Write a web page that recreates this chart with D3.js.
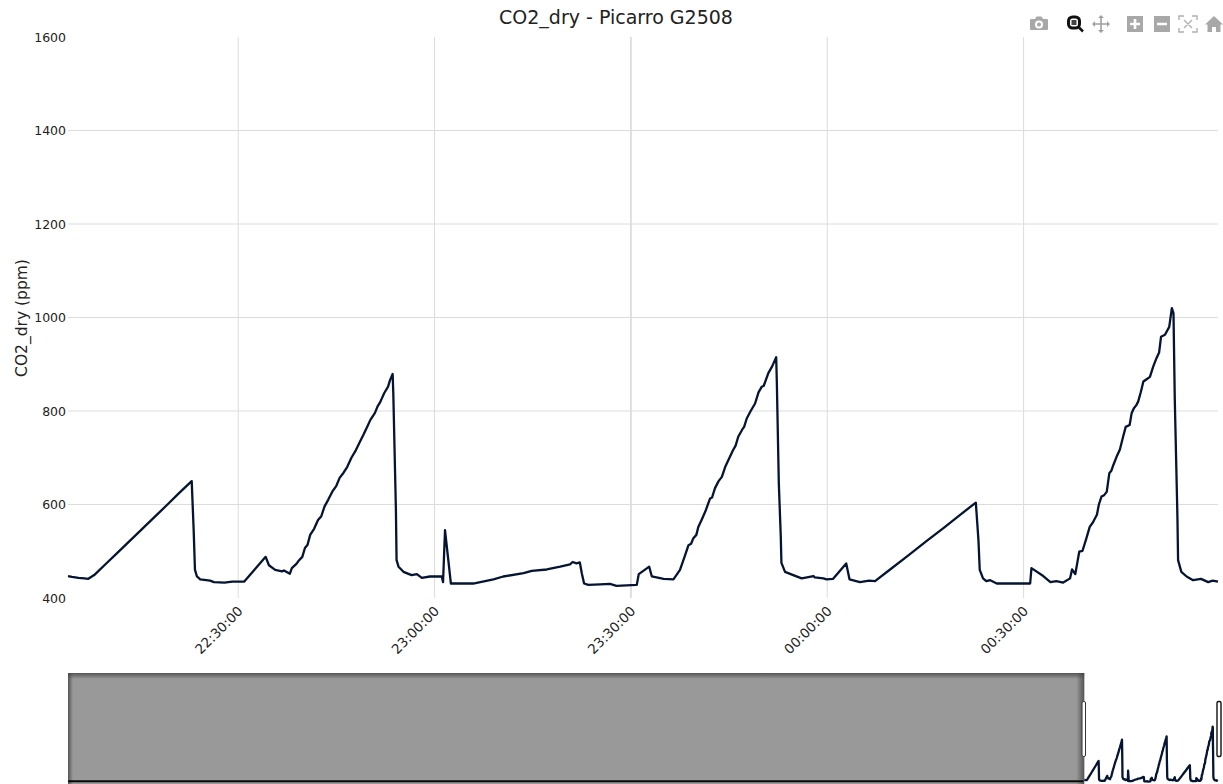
<!DOCTYPE html>
<html><head><meta charset="utf-8">
<script src="https://cdn.jsdelivr.net/npm/d3@7/dist/d3.min.js"></script>
<style>html,body{margin:0;padding:0;background:#fff;overflow:hidden}svg{display:block}text{font-family:"DejaVu Sans",Verdana,sans-serif;fill:#222}</style>
</head><body><svg id="c" width="1223" height="784"></svg>
<script>
const chartTitle = "CO2_dry - Picarro G2508";
const yAxisTitle = "CO2_dry (ppm)";
const yTicks = [400,600,800,1000,1200,1400,1600];
const xTickMinutes = [30,60,90,120,150];
// minutes after 22:00
const minutes = [4.0,4.6,5.6,6.5,7.1,8.0,10.0,11.5,13.2,15.5,17.2,19.2,21.0,22.9,23.2,23.4,23.7,24.2,25.7,26.3,27.9,29.1,30.9,34.2,34.7,35.65,36.7,37.0,37.9,38.2,38.9,39.2,39.8,40.2,40.6,41.0,41.6,42.2,42.7,43.2,43.75,44.4,45.0,45.5,46.1,46.65,47.3,47.9,48.6,49.1,49.7,50.2,50.9,51.3,51.7,52.3,52.9,53.2,53.6,53.7,54.1,54.2,54.5,55.25,56.5,57.3,58.06,59.3,61.1,61.3,61.6,62.5,65.9,69.0,70.5,73.6,74.85,77.15,79.2,80.7,81.1,81.7,82.2,82.5,82.85,83.5,85.3,86.8,87.8,90.9,91.2,92.8,93.2,95.0,96.5,97.5,98.3,98.8,99.2,99.55,100.0,100.3,100.8,101.4,102.1,102.4,102.85,103.4,103.9,104.4,104.9,105.6,106.0,106.4,107.0,107.3,107.7,108.3,108.97,109.5,110.0,110.3,111.0,111.6,112.2,112.3,112.6,112.9,113.0,113.55,114.8,116.1,117.9,118.1,119.4,119.9,120.9,122.9,123.4,125.0,126.4,127.3,129.6,132.1,135.2,137.7,140.3,142.7,143.1,143.3,143.8,144.3,144.9,145.9,151.0,151.2,153.0,154.1,155.0,156.05,157.1,157.4,157.9,158.5,159.0,159.6,160.1,160.6,161.2,161.5,161.9,162.3,162.7,163.1,163.4,163.7,164.2,164.7,165.2,165.6,166.2,166.5,166.85,167.2,167.5,167.9,168.3,168.8,169.3,169.8,170.3,170.7,171.0,171.6,172.25,172.65,172.9,173.1,173.5,173.6,174.1,174.9,175.9,177.1,178.2,178.9,179.7];
const co2 = [447,445,443,442,441,449,476,496,519,550,573,600,625,650,545,460,446,440,437,434,433,435,435,488,470,460,457,459,452,464,473,479,488,507,514,535,548,567,575,596,610,628,640,657,668,680,700,714,734,748,766,781,796,810,819,838,852,866,879,838,588,481,467,456,449,451,443,446,446,434,545,431,431,440,446,453,458,461,467,472,477,474,476,453,431,428,429,430,426,428,451,467,446,441,440,460,492,513,516,528,535,552,567,586,613,615,635,650,659,680,695,716,726,745,760,766,784,800,816,840,852,854,881,896,915,860,646,531,475,456,449,442,447,444,442,440,441,474,440,434,437,436,461,488,522,549,578,604,524,460,442,436,438,431,431,464,447,434,436,433,442,461,451,499,501,528,552,562,578,600,617,620,627,667,672,684,702,717,745,766,770,795,806,812,820,840,863,868,873,895,913,925,959,963,980,1020,1009,823,574,481,456,446,438,441,434,437,435];
// flat earlier record seen only in the range slider
const sliderLeadMinutes = [-1331,3];
const sliderLeadCo2 = [430,430];

const toDate = m => new Date(2020,0,1,22,0,0,0).getTime() + m*60000;
const svg = d3.select("#c");
const L=68,R=1218,T=37,B=598;
const x = d3.scaleTime().domain([toDate(4),toDate(179.7)]).range([L,R]);
const y = d3.scaleLinear().domain([400,1600]).range([B,T]);
const xs = d3.scaleLinear().domain([toDate(-1331),toDate(179.7)]).range([L,R]);
const ys = d3.scaleLinear().domain([400,1600]).range([784,673]);
const grid="#dcdcdc";

// grid
svg.append("g").selectAll("line").data(yTicks.filter(v=>v>400&&v<1600)).join("line")
 .attr("x1",L).attr("x2",R).attr("y1",d=>y(d)).attr("y2",d=>y(d)).attr("stroke",grid);
svg.append("g").selectAll("line").data(xTickMinutes).join("line")
 .attr("x1",d=>x(toDate(d))).attr("x2",d=>x(toDate(d))).attr("y1",T).attr("y2",B).attr("stroke",grid)
 .attr("stroke-width",d=>d===90?1.8:1);

// axes
const gy = svg.append("g").attr("transform",`translate(${L},0)`)
 .call(d3.axisLeft(y).tickValues(yTicks).tickSize(0).tickPadding(2).tickFormat(d3.format("d")));
gy.select(".domain").remove();
gy.selectAll("text").style("font-size","12.5px").attr("fill","#222");
const gx = svg.append("g").attr("transform",`translate(0,${B})`)
 .call(d3.axisBottom(x).tickValues(xTickMinutes.map(toDate)).tickSize(0).tickFormat(d3.timeFormat("%H:%M:%S")));
gx.select(".domain").remove();
gx.selectAll("text").style("font-size","13.5px").attr("fill","#222")
 .attr("text-anchor","end").attr("dy",0).attr("y",0)
 .attr("transform","translate(5,14) rotate(-45)");

// trace
const line = d3.line().x((d,i)=>x(toDate(minutes[i]))).y(d=>y(d));
svg.append("path").datum(co2).attr("d",line).attr("fill","none").attr("stroke","#051432").attr("stroke-width",2.3).attr("stroke-linejoin","round");

// title
svg.append("text").attr("x",616).attr("y",23.5).attr("text-anchor","middle").style("font-size","19px").text(chartTitle);
svg.append("text").attr("transform","translate(27,318) rotate(-90)").attr("text-anchor","middle").style("font-size","15.5px").text(yAxisTitle);

// range slider
const defs = svg.append("defs");
function grad(id,x2,y2){const g=defs.append("linearGradient").attr("id",id).attr("x1",0).attr("y1",0).attr("x2",x2).attr("y2",y2);
 g.append("stop").attr("offset",0).attr("stop-color","#444").attr("stop-opacity",.8);
 g.append("stop").attr("offset",1).attr("stop-color","#444").attr("stop-opacity",0);}
grad("gt",0,1);grad("gl",1,0);
const mX = xs(toDate(4));
const sl = d3.line().x((d,i)=>xs(toDate(minutes[i]))).y(d=>ys(d));
svg.append("path").datum(co2).attr("d",sl).attr("fill","none").attr("stroke","#051432").attr("stroke-width",2.3).attr("stroke-linejoin","round");
svg.append("rect").attr("x",L).attr("y",673).attr("width",mX-L).attr("height",111).attr("fill","#999");
svg.append("rect").attr("x",L).attr("y",673).attr("width",mX-L).attr("height",6).attr("fill","url(#gt)");
svg.append("rect").attr("x",L).attr("y",673).attr("width",5).attr("height",111).attr("fill","url(#gl)");
svg.append("rect").attr("x",mX-8).attr("y",673).attr("width",8).attr("height",111).attr("fill","url(#gl)").attr("transform",`rotate(180 ${mX-4} 728.5)`);
const lead = d3.line().x((d,i)=>xs(toDate(sliderLeadMinutes[i]))).y(d=>ys(d));
svg.append("path").datum(sliderLeadCo2).attr("d",lead).attr("fill","none").attr("stroke","#0a0a0a").attr("stroke-width",2);
[[1082,3.5,"#333",1],[1217,4,"#111",1.4]].forEach(([hx,w,c,sw])=>svg.append("rect").attr("x",hx).attr("y",701.5).attr("width",w).attr("height",55).attr("rx",1.5).attr("fill","#fff").attr("stroke",c).attr("stroke-width",sw));

// modebar icons
const mb = svg.append("g").attr("fill","#a8a8a8");
const ic = (tx,ty)=>mb.append("g").attr("transform",`translate(${tx},${ty})`);
let g = ic(1039,24);
g.append("path").attr("fill-rule","evenodd").attr("d","M-8,-5H-4L-2.5,-7.5H2.5L4,-5H8Q9,-5 9,-4V5Q9,6 8,6H-8Q-9,6 -9,5V-4Q-9,-5 -8,-5ZM0,-3.5A4,4 0 1,0 0,4.5A4,4 0 1,0 0,-3.5ZM0,-1.5A2,2 0 1,1 0,2.5A2,2 0 1,1 0,-1.5Z");
g = ic(1074,22.5);
g.append("rect").attr("x",-5.5).attr("y",-5.5).attr("width",11).attr("height",11).attr("rx",4).attr("fill","none").attr("stroke","#111").attr("stroke-width",3);
g.append("rect").attr("x",-2.5).attr("y",-2.5).attr("width",5).attr("height",5).attr("fill","#444");
g.append("line").attr("x1",5).attr("y1",5).attr("x2",9).attr("y2",9).attr("stroke","#111").attr("stroke-width",2.5);
g = ic(1101,24);
g.append("path").attr("fill","none").attr("stroke","#a0a0a0").attr("stroke-width",1.6).attr("d","M-7,0H7M0,-7V7");
g.append("path").attr("fill","#a0a0a0").attr("d","M-9,0L-6,-3V3ZM9,0L6,-3V3ZM0,-9L-3,-6H3ZM0,9L-3,6H3Z");
g = ic(1135,24);
g.append("path").attr("fill-rule","evenodd").attr("d","M-8,-8H8V8H-8ZM-1.3,-5V-1.3H-5V1.3H-1.3V5H1.3V1.3H5V-1.3H1.3V-5Z");
g = ic(1162,24);
g.append("path").attr("fill-rule","evenodd").attr("d","M-8,-8H8V8H-8ZM-5,-1.3V1.3H5V-1.3Z");
g = ic(1188,24);
g.append("path").attr("fill","none").attr("stroke","#b0b0b0").attr("stroke-width",1.4).attr("d","M-9,-4V-8H-4M4,-8H9V-4M9,4V8H4M-4,8H-9V4M-4,-4L4,4M4,-4L-4,4");
g = ic(1214,24);
g.append("path").attr("d","M0,-8L9,0.5H6.5V8H2V3H-2V8H-6.5V0.5H-9Z");
</script></body></html>
